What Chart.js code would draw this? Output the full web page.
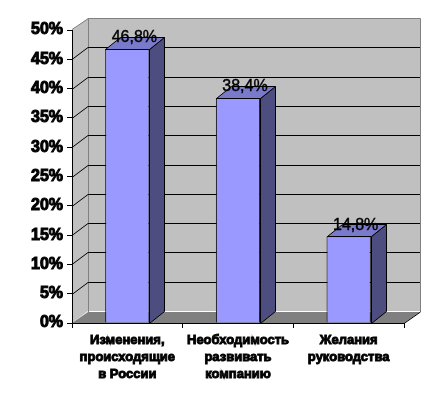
<!DOCTYPE html>
<html>
<head>
<meta charset="utf-8">
<script src="https://cdn.jsdelivr.net/npm/chart.js@4/dist/chart.umd.min.js"></script>
<style>
  html, body { margin: 0; padding: 0; background: #ffffff; }
  canvas { display: block; }
</style>
</head>
<body>
<canvas id="c" width="447" height="403"></canvas>
<script>
const categories = [
  ["Изменения,", "происходящие", "в России"],
  ["Необходимость", "развивать", "компанию"],
  ["Желания", "руководства"]
];
const values = [46.8, 38.4, 14.8];
const yTicks = [0, 5, 10, 15, 20, 25, 30, 35, 40, 45, 50];

const DX = 16, DY = 12;      // wall depth offset
const BDX = 15, BDY = 12;    // bar depth offset

function poly(ctx, pts) {
  ctx.beginPath();
  ctx.moveTo(pts[0][0], pts[0][1]);
  for (let i = 1; i < pts.length; i++) ctx.lineTo(pts[i][0], pts[i][1]);
  ctx.closePath();
}

const threeD = {
  id: 'threeD',
  beforeDraw(chart) {
    const ctx = chart.ctx;
    const { left, right, top, bottom } = chart.chartArea;
    const ys = chart.scales.y;
    ctx.save();
    ctx.fillStyle = '#C0C0C0';
    poly(ctx, [[left, top], [left + DX, top - DY], [left + DX, bottom - DY], [left, bottom]]);
    ctx.fill();
    ctx.fillRect(left + DX, top - DY, right - left, bottom - top);
    ctx.fillStyle = '#808080';
    poly(ctx, [[left, bottom], [left + DX, bottom - DY + 1], [right + DX, bottom - DY + 1], [right, bottom]]);
    ctx.fill();
    ctx.strokeStyle = '#808080';
    ctx.lineWidth = 1;
    ctx.beginPath();
    ctx.moveTo(left, top - 0.5);
    ctx.lineTo(left + DX + 0.5, top - DY + 0.5);
    ctx.lineTo(right + DX + 0.5, top - DY + 0.5);
    ctx.lineTo(right + DX + 0.5, bottom - DY + 1);
    ctx.moveTo(left + DX + 0.5, top - DY + 0.5);
    ctx.lineTo(left + DX + 0.5, bottom - DY + 1);
    ctx.stroke();
    ctx.strokeStyle = '#000000';
    ctx.beginPath();
    ctx.moveTo(right, bottom + 0.5);
    ctx.lineTo(right + DX + 0.5, bottom - DY + 1);
    ctx.stroke();
    yTicks.forEach(v => {
      if (v === 0 || v === 50) return;
      const y = Math.round(ys.getPixelForValue(v)) + 0.5;
      ctx.beginPath();
      ctx.moveTo(left, y);
      ctx.lineTo(left + DX, y - DY);
      ctx.lineTo(right + DX, y - DY);
      ctx.stroke();
    });
    ctx.restore();
  },
  afterDatasetsDraw(chart) {
    const ctx = chart.ctx;
    const meta = chart.getDatasetMeta(0);
    ctx.save();
    ctx.lineWidth = 1;
    ctx.strokeStyle = '#000000';
    meta.data.forEach((bar, i) => {
      const p = bar.getProps(['x', 'y', 'base', 'width'], true);
      const x0 = Math.round(p.x - p.width / 2) + 0.5;
      const x1 = Math.round(p.x + p.width / 2) + 0.5;
      const yt = Math.round(p.y) + 0.5;
      const yb = Math.round(p.base) + 0.5;
      ctx.fillStyle = '#4D4D7F';
      poly(ctx, [[x1, yt], [x1 + BDX, yt - BDY], [x1 + BDX, yb - BDY], [x1, yb]]);
      ctx.fill(); ctx.stroke();
      ctx.fillStyle = '#7A7ACC';
      poly(ctx, [[x0, yt], [x0 + BDX, yt - BDY], [x1 + BDX, yt - BDY], [x1, yt]]);
      ctx.fill(); ctx.stroke();
    });
    meta.data.forEach((bar, i) => {
      const p = bar.getProps(['x', 'y'], true);
      ctx.fillStyle = '#000000';
      ctx.strokeStyle = '#000000';
      ctx.lineWidth = 0.4;
      ctx.font = '16px "Liberation Sans", Arial, sans-serif';
      ctx.textAlign = 'center';
      ctx.textBaseline = 'middle';
      const txt = values[i].toFixed(1).replace('.', ',') + '%';
      ctx.fillText(txt, p.x + 7, p.y - 11);
      ctx.strokeText(txt, p.x + 7, p.y - 11);
    });
    ctx.restore();
  }
};

new Chart(document.getElementById('c'), {
  type: 'bar',
  data: {
    labels: categories,
    datasets: [{
      data: values,
      backgroundColor: '#9999FF',
      borderColor: '#000000',
      borderWidth: 1,
      barPercentage: 0.8,
      categoryPercentage: 0.5
    }]
  },
  options: {
    responsive: false,
    animation: false,
    devicePixelRatio: 1,
    layout: { padding: { top: 30, right: 43, left: 0, bottom: 0 } },
    plugins: { legend: { display: false }, tooltip: { enabled: false } },
    scales: {
      x: {
        grid: { drawOnChartArea: false, tickLength: 5, color: '#000000', offset: true },
        border: { color: '#000000', width: 1 },
        ticks: {
          color: '#000000',
          textStrokeColor: '#000000',
          textStrokeWidth: 0.9,
          padding: 4,
          maxRotation: 0,
          autoSkip: false,
          font: { family: '"Liberation Sans", Arial, sans-serif', size: 13, weight: 'bold', lineHeight: 1.32 }
        },
        afterFit(scale) { scale.height = 80; }
      },
      y: {
        min: 0,
        max: 50,
        afterBuildTicks(scale) { scale.ticks = yTicks.map(v => ({ value: v })); },
        grid: { drawOnChartArea: false, tickLength: 5, color: '#000000' },
        border: { color: '#000000', width: 1 },
        ticks: {
          color: '#000000',
          textStrokeColor: '#000000',
          textStrokeWidth: 1,
          padding: 4,
          font: { family: '"Liberation Sans", Arial, sans-serif', size: 16, weight: 'bold' },
          callback: v => v + '%'
        },
        afterFit(scale) { scale.width = 72; }
      }
    }
  },
  plugins: [threeD]
});
</script>
</body>
</html>
